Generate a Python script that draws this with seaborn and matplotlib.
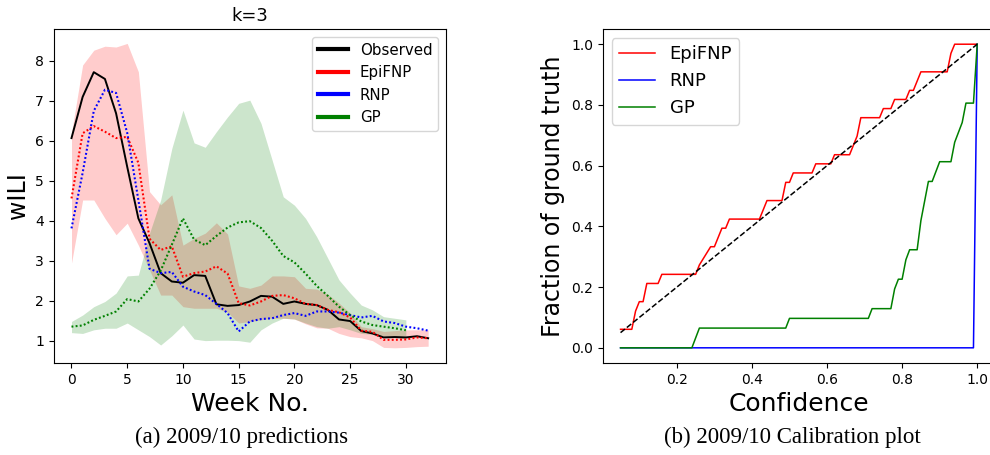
import numpy as np
import matplotlib
matplotlib.use("Agg")
import matplotlib.pyplot as plt
from matplotlib.lines import Line2D
import seaborn as sns

# ---- (a) weekly predictions, k=3 ----
weeks = np.arange(33)
gp_weeks = np.arange(31)

observed = [6.07, 7.10, 7.72, 7.55, 6.69, 5.35, 4.06, 3.44, 2.69, 2.48,
            2.45, 2.64, 2.62, 1.91, 1.87, 1.89, 1.98, 2.12, 2.10, 1.92,
            1.98, 1.92, 1.89, 1.77, 1.53, 1.49, 1.24, 1.18, 1.08, 1.09,
            1.08, 1.11, 1.06]
epifnp = [4.56, 6.19, 6.37, 6.23, 6.07, 6.10, 5.45, 3.55, 3.27, 3.36,
          2.60, 2.69, 2.73, 2.86, 2.68, 1.94, 1.88, 1.98, 2.12, 2.14,
          2.06, 1.92, 1.89, 1.77, 1.71, 1.58, 1.25, 1.22, 1.02, 1.02,
          1.03, 1.08, 1.06]
epifnp_lo = [2.94, 4.52, 4.52, 4.06, 3.65, 3.94, 3.39, 2.77, 2.14, 2.14,
             1.85, 1.81, 1.81, 1.81, 1.71, 1.44, 1.48, 1.52, 1.56, 1.56,
             1.54, 1.42, 1.32, 1.31, 1.18, 1.10, 1.07, 1.00, 0.83, 0.82,
             0.83, 0.85, 0.86]
epifnp_hi = [6.20, 7.90, 8.27, 8.37, 8.35, 8.44, 7.73, 4.73, 4.40, 4.65,
             3.39, 3.56, 3.69, 3.95, 3.67, 2.37, 2.31, 2.39, 2.62, 2.62,
             2.60, 2.31, 2.29, 2.16, 1.94, 1.69, 1.35, 1.30, 1.23, 1.25,
             1.27, 1.27, 1.27]
rnp = [3.81, 5.20, 6.75, 7.28, 7.20, 6.20, 4.52, 2.80, 2.69, 2.72,
       2.35, 2.23, 2.14, 1.92, 1.69, 1.23, 1.48, 1.54, 1.56, 1.64,
       1.69, 1.62, 1.73, 1.73, 1.70, 1.64, 1.58, 1.62, 1.48, 1.44,
       1.35, 1.31, 1.25]
gp = [1.35, 1.38, 1.52, 1.62, 1.73, 2.04, 1.98, 2.30, 2.75, 3.40,
      4.06, 3.53, 3.39, 3.62, 3.83, 3.96, 3.99, 3.82, 3.50, 3.12,
      2.96, 2.68, 2.37, 2.12, 1.85, 1.64, 1.48, 1.39, 1.35, 1.31, 1.26]
gp_lo = [1.20, 1.18, 1.27, 1.31, 1.31, 1.44, 1.27, 1.10, 0.89, 1.12,
         1.39, 1.04, 1.00, 1.01, 1.01, 1.00, 0.96, 1.27, 1.44, 1.56,
         1.54, 1.44, 1.35, 1.31, 1.35, 1.27, 1.18, 1.16, 1.10, 1.08, 1.05]
gp_hi = [1.48, 1.64, 1.85, 1.98, 2.19, 2.62, 2.64, 3.69, 4.52, 5.81,
         6.77, 5.95, 5.84, 6.23, 6.60, 6.94, 7.02, 6.44, 5.52, 4.60,
         4.39, 4.06, 3.60, 3.06, 2.52, 2.19, 1.89, 1.77, 1.60, 1.56, 1.52]

# ---- (b) calibration curves ----
epi_conf = [0.05, 0.08, 0.09, 0.10, 0.11, 0.12, 0.15, 0.16, 0.25, 0.26,
            0.29, 0.30, 0.32, 0.33, 0.34, 0.42, 0.44, 0.48, 0.49, 0.50,
            0.51, 0.56, 0.57, 0.61, 0.62, 0.66, 0.68, 0.69, 0.74, 0.75,
            0.77, 0.78, 0.81, 0.82, 0.83, 0.85, 0.92, 0.93, 0.94, 1.00]
epi_frac = [0.061, 0.061, 0.121, 0.152, 0.152, 0.212, 0.212, 0.242, 0.242, 0.273,
            0.333, 0.333, 0.394, 0.394, 0.424, 0.424, 0.485, 0.485, 0.545, 0.545,
            0.576, 0.576, 0.606, 0.606, 0.636, 0.636, 0.697, 0.758, 0.758, 0.788,
            0.788, 0.818, 0.818, 0.848, 0.848, 0.909, 0.909, 0.970, 1.0, 1.0]
rnp_conf = [0.05, 0.99, 1.00]
rnp_frac = [0.0, 0.0, 1.0]
gp_conf = [0.05, 0.24, 0.26, 0.49, 0.50, 0.71, 0.72, 0.77, 0.78, 0.79,
           0.80, 0.81, 0.82, 0.84, 0.85, 0.87, 0.88, 0.90, 0.93, 0.94,
           0.96, 0.97, 0.99, 1.00]
gp_frac = [0.0, 0.0, 0.065, 0.065, 0.097, 0.097, 0.129, 0.129, 0.194, 0.226,
           0.226, 0.290, 0.323, 0.323, 0.419, 0.548, 0.548, 0.613, 0.613, 0.677,
           0.742, 0.806, 0.806, 1.0]
ideal = [0.05, 1.0]

fig = plt.figure(figsize=(9.9, 4.55), dpi=100)
ax1 = fig.add_axes([0.0542, 0.2022, 0.3963, 0.734])
ax2 = fig.add_axes([0.6088, 0.2022, 0.3963, 0.734])

# Left panel: bands first, then the mean curves
ax1.fill_between(weeks, epifnp_lo, epifnp_hi, color='red', alpha=0.2, linewidth=0)
ax1.fill_between(gp_weeks, gp_lo, gp_hi, color='green', alpha=0.2, linewidth=0)
sns.lineplot(x=weeks, y=observed, ax=ax1, color='black', linewidth=1.4,
             estimator=None, sort=False)
for vals, xs, col in [(epifnp, weeks, 'red'), (rnp, weeks, 'blue'), (gp, gp_weeks, 'green')]:
    sns.lineplot(x=xs, y=vals, ax=ax1, color=col, linewidth=1.5,
                 dashes=False, estimator=None, sort=False)
    ax1.lines[-1].set_dashes((0.9, 1.1))

ax1.set_xlim(-1.6, 33.6)
ax1.set_ylim(0.44, 8.8)
ax1.set_xticks([0, 5, 10, 15, 20, 25, 30])
ax1.set_yticks([1, 2, 3, 4, 5, 6, 7, 8])
ax1.tick_params(labelsize=10)
ax1.set_title('k=3', fontsize=13)
ax1.set_xlabel('Week No.', fontsize=18)
ax1.set_ylabel('wILI', fontsize=17)
handles = [Line2D([], [], color=c, linewidth=3) for c in ['black', 'red', 'blue', 'green']]
ax1.legend(handles, ['Observed', 'EpiFNP', 'RNP', 'GP'], loc='upper right',
           fontsize=10.8)

# Right panel: calibration
sns.lineplot(x=epi_conf, y=epi_frac, ax=ax2, color='red', linewidth=1.1,
             estimator=None, sort=False, label='EpiFNP')
sns.lineplot(x=rnp_conf, y=rnp_frac, ax=ax2, color='blue', linewidth=1.1,
             estimator=None, sort=False, label='RNP')
sns.lineplot(x=gp_conf, y=gp_frac, ax=ax2, color='green', linewidth=1.1,
             estimator=None, sort=False, label='GP')
ax2.plot(ideal, ideal, color='black', linestyle='--', linewidth=1.1)

ax2.set_xlim(0.0025, 1.0475)
ax2.set_ylim(-0.05, 1.05)
ax2.set_xticks([0.2, 0.4, 0.6, 0.8, 1.0])
ax2.set_yticks([0.0, 0.2, 0.4, 0.6, 0.8, 1.0])
ax2.tick_params(labelsize=10)
ax2.set_xlabel('Confidence', fontsize=18)
ax2.set_ylabel('Fraction of ground truth', fontsize=17)
ax2.legend(loc='upper left', fontsize=13)

# sub-figure captions
fig.text(0.2444, 0.038, '(a) 2009/10 predictions', ha='center', va='center',
         fontsize=16.5, family='Liberation Serif')
fig.text(0.80, 0.038, '(b) 2009/10 Calibration plot', ha='center', va='center',
         fontsize=16.5, family='Liberation Serif')

fig.savefig('out.png', dpi=100)
plt.close(fig)
